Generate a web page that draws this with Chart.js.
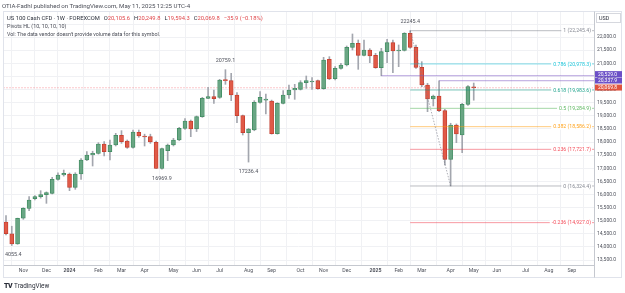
<!DOCTYPE html>
<html><head><meta charset="utf-8">
<script src="https://cdn.jsdelivr.net/npm/chart.js@4.4.1/dist/chart.umd.min.js"></script>
<style>
html,body{margin:0;padding:0;background:#fff;width:625px;height:293px;overflow:hidden;font-family:Roboto,"Liberation Sans",sans-serif;}
#wrap{position:relative;width:625px;height:293px;}
canvas{position:absolute;left:0;top:0;}
.t{position:absolute;white-space:nowrap;color:#4a4d57;font-size:5.5px;line-height:6px;}
.r{color:#e0464a;}
.k{color:#2a2e39;}
.g{display:inline-block;width:4px;}
.logo{position:absolute;left:4px;top:282px;font-size:6.4px;color:#2a2e39;white-space:nowrap;}
.logo b{font-weight:900;font-size:7px;letter-spacing:-0.5px;margin-right:2px;}
</style></head><body>
<div id="wrap">
<canvas id="c" width="625" height="293"></canvas>
<div class="t" style="left:2px;top:3px;font-size:6.1px;">OTIA-Fadhl published on TradingView.com, May 11, 2025 12:25 UTC-4</div>
<div class="t" style="left:7px;top:15px;font-size:5.8px;"><span class="k">US 100 Cash CFD · 1W · FOREXCOM</span><span class="g"></span><span class="k">O</span><span class="r">20,105.6</span><span class="g"></span><span class="k">H</span><span class="r">20,249.8</span><span class="g"></span><span class="k">L</span><span class="r">19,594.3</span><span class="g"></span><span class="k">C</span><span class="r">20,069.8</span><span class="g"></span><span class="r">−35.9 (−0.18%)</span></div>
<div class="t" style="left:7px;top:23px;font-size:5.4px;">Pivots HL (10, 10, 10, 10)</div>
<div class="t" style="left:7px;top:31px;font-size:5.3px;">Vol: The data vendor doesn't provide volume data for this symbol.</div>
<div class="logo"><b>TV</b>TradingView</div>
</div>
<script>
// ---- data (weekly candles starting week of 2023-10-16) ----
const startDate = '2023-10-16';
const opens  = [14950,14505,14112,15100,15472,15841,15917,15993,16044,16578,16743,16781,16273,16781,17315,17506,17569,17925,17633,17887,18256,18040,17798,18370,18230,18205,17989,16990,17671,17887,18078,18523,18802,18497,18967,19666,19730,19705,20366,20340,19794,19006,18357,18459,19514,19600,19565,18319,19476,19794,19984,20010,20264,20289,20340,20035,21153,20416,20810,20938,21611,21764,21306,21509,21306,20836,21446,21789,21471,21497,22145,21611,20849,20175,19641,19755,19196,17341,18650,18268,19438,20105.6];
const highs  = [15193,14790,15100,15497,15917,15960,16146,16100,16654,16830,16934,16820,16830,17365,17633,17650,17976,18014,18078,18332,18434,18078,18459,18459,18300,18300,18040,17773,17925,18142,18561,18891,18840,18993,19705,20086,19984,20391,20759.1,20620,19883,19030,18523,19578,19921,19832,19600,19500,19959,20175,20200,20340,20518,20460,20365,21230,21255,20874,21000,21662,22120,21891,21891,21560,21383,21573,21916,21891,21700,22170,22245.4,21700,21064,20240,19790,20337.9,19250,18716,18690,19476,20149,20249.8];
const lows   = [14460,14055.4,14100,15053,15383,15790,15860,15663,16020,16550,16700,16146,16197,16578,17290,17086,17540,17468,17315,17850,17950,17760,17770,18180,17849,17950,16985,16969.9,17290,17850,18050,18480,18205,18400,18940,19650,19476,19666,20200,19578,18739,18268,17236.4,18430,19480,19069,18300,18300,19450,19667,19628,19984,20048,20010,20010,20010,20380,20365,20780,20900,21510,20772,21280,21026,20810,20529.0,21026,20645,20874,21470,21573,20810,20111,19158,19374,19158,17125,16324.4,17976,17595,19400,19594.3];
const closes = [14505,14112,15095,15472,15790,15917,15993,16070,16578,16743,16807,16273,16781,17315,17506,17569,17925,17633,17887,18256,18014,17798,18383,18230,18192,18002,16990,17747,17887,18078,18523,18802,18497,18967,19666,19730,19654,20366,20340,19794,19006,18357,18497,19514,19705,19640,18319,19476,19794,19984,20048,20264,20340,20327,20035,21128,20403,20810,20938,21611,21764,21306,21509,21281,20836,21446,21789,21471,21497,22145,21611,20849,20175,19641,19755,19196,17341,18650,18307,19438,20111,20069.8];

const monthLabels = ['Nov','Dec','2024','Feb','Mar','Apr','May','Jun','Jul','Aug','Sep','Oct','Nov','Dec','2025','Feb','Mar','Apr','May','Jun','Jul','Aug','Sep'];
const yTicks = [13500,14000,14500,15000,15500,16000,16500,17000,17500,18000,18500,19000,19500,20000,20500,21000,21500,22000,22500];

// Fibonacci retracement (drawn from the 22245.4 high to the 16324.4 low)
const fibStartIndex = 70, fibEndIndex = 77;
const fibLevels = ['1','0.786','0.618','0.5','0.382','0.236','0','-0.236'];
const fibValues = [22245.4,20978.3,19983.6,19284.9,18586.2,17721.7,16324.4,14927.0];
const fibColors = ['#787b86','#00bcd4','#089981','#4caf50','#ff9800','#f23645','#787b86','#f23645'];

// Pivots HL labels
const pivotIndex = [70,38,27,42,1];
const pivotValue = [22245.4,20759.1,16969.9,17236.4,14055.4];
const pivotIsHigh = [true,true,false,false,false];

// Pivot level lines and right-axis price marks
const pivotLineIndex = [65,75];
const pivotLineValue = [20529.0,20337.9];
const lastPrice = 20069.8;
const axisMarkValues = [20529.0,20337.9,20069.8];
const axisMarkColors = ['#6b4fc7','#6b4fc7','#e0533f'];

// ---- build ----
const X_MIN = -0.52, X_MAX = 101.83, Y_MIN = 13312, Y_MAX = 22958;
const idx = opens.map((_, i) => i);
const isUp = i => closes[i] >= opens[i];
const G_FILL = '#69a684', G_LINE = '#3e8a5f', R_FILL = '#e05a47', R_LINE = '#c23b2c';

// month tick positions: first weekly bar of each month after the start
const monthTicks = [];
{
  const s = new Date(startDate + 'T00:00:00Z');
  let prevM = s.getUTCMonth(), li = 0;
  for (let i = 1; i <= Math.floor(X_MAX) && li < monthLabels.length; i++) {
    const d = new Date(s.getTime() + i * 7 * 86400000);
    const m = d.getUTCMonth();
    if (m !== prevM) { monthTicks.push({ i, label: monthLabels[li++] }); }
    prevM = m;
  }
}
const tickLabelAt = v => { const t = monthTicks.find(t => t.i === v); return t ? t.label : ''; };

const fmt = v => v.toLocaleString('en-US', { minimumFractionDigits: 1, maximumFractionDigits: 1 });
const hexA = (h, a) => { const n = parseInt(h.slice(1), 16); return `rgba(${n>>16},${(n>>8)&255},${n&255},${a})`; };

const datasets = [];
datasets.push({ type: 'bar', data: idx.map(i => ({ x: i, y: [lows[i], highs[i]] })),
  backgroundColor: '#a3a6ae', barThickness: 1, grouped: false, order: 5 });
datasets.push({ type: 'bar', data: idx.map(i => ({ x: i, y: [opens[i], closes[i]] })),
  backgroundColor: idx.map(i => isUp(i) ? G_FILL : R_FILL),
  borderColor: idx.map(i => isUp(i) ? G_LINE : R_LINE),
  borderWidth: 0.8, borderSkipped: false, barThickness: 4, minBarLength: 1, grouped: false, order: 4 });
// last price line
datasets.push({ type: 'line', data: [{ x: X_MIN, y: lastPrice }, { x: X_MAX, y: lastPrice }],
  borderColor: 'rgba(242,54,69,0.28)', borderWidth: 1, borderDash: [2, 1], pointRadius: 0, order: 6 });
// fib lines
fibValues.forEach((v, k) => datasets.push({ type: 'line',
  data: [{ x: fibStartIndex, y: v }, { x: X_MAX, y: v }],
  borderColor: hexA(fibColors[k], 0.5), borderWidth: 1, pointRadius: 0, order: 3 }));
// fib trend (dotted)
datasets.push({ type: 'line', data: [{ x: fibStartIndex, y: fibValues[0] }, { x: fibEndIndex, y: fibValues[6] }],
  borderColor: 'rgba(120,123,134,0.75)', borderWidth: 0.8, borderDash: [1.5, 1.5], pointRadius: 0, order: 1 });
// pivot level lines
pivotLineValue.forEach((v, k) => datasets.push({ type: 'line',
  data: [{ x: pivotLineIndex[k], y: v }, { x: X_MAX, y: v }],
  borderColor: 'rgba(126,87,194,0.55)', borderWidth: 1, pointRadius: 0, order: 3 }));

const annot = {
  id: 'annot',
  afterDatasetsDraw(chart) {
    const { ctx, scales: { x, y }, chartArea: a } = chart;
    ctx.save();
    ctx.beginPath(); ctx.rect(a.left, a.top, a.right - a.left, a.bottom - a.top); ctx.clip();
    // pivot labels
    ctx.font = '5.4px Roboto'; ctx.textAlign = 'center'; ctx.textBaseline = 'middle'; ctx.fillStyle = '#4e515b';
    pivotIndex.forEach((k, j) => {
      const px = x.getPixelForValue(k), py = y.getPixelForValue(pivotValue[j]) + (pivotIsHigh[j] ? -9.5 : 9.5);
      ctx.fillText(String(pivotValue[j]), px, py);
    });
    // fib labels at the right end with white background
    ctx.font = '5.2px Roboto'; ctx.textAlign = 'right';
    fibValues.forEach((v, k) => {
      const txt = fibLevels[k] + ' (' + fmt(v) + ')';
      const w = ctx.measureText(txt).width;
      const rx = a.right - 3, py = y.getPixelForValue(v);
      ctx.fillStyle = '#fff'; ctx.fillRect(rx - w - 2, py - 3, w + 3, 6);
      ctx.fillStyle = hexA(fibColors[k], 0.9); ctx.fillText(txt, rx, py + 0.3);
    });
    ctx.restore();
  },
  afterDraw(chart) {
    const { ctx, scales: { y }, chartArea: a } = chart;
    ctx.save();
    // frame
    ctx.strokeStyle = '#e0e3eb'; ctx.lineWidth = 1;
    ctx.strokeRect(3.5, 11.5, 618, 266);
    ctx.strokeStyle = '#c5c8cf';
    ctx.beginPath(); ctx.moveTo(a.right + 0.5, 11.5); ctx.lineTo(a.right + 0.5, 277.5); ctx.stroke();
    // right-axis price marks
    const H = 6.4;
    let centers = axisMarkValues.map(v => y.getPixelForValue(v));
    for (let k = centers.length - 2; k >= 0; k--) if (centers[k + 1] - centers[k] < H) centers[k] = centers[k + 1] - H;
    ctx.font = '5px Roboto'; ctx.textAlign = 'left'; ctx.textBaseline = 'middle';
    axisMarkValues.forEach((v, k) => {
      ctx.fillStyle = axisMarkColors[k]; ctx.fillRect(a.right + 1, centers[k] - H / 2, 27, H - 0.4);
      ctx.fillStyle = '#fff'; ctx.fillText(fmt(v), a.right + 4, centers[k] + 0.2);
    });
    // USD box
    ctx.fillStyle = '#fff'; ctx.fillRect(a.right + 2, 13, 25, 10);
    ctx.strokeStyle = '#d6d8de'; ctx.strokeRect(a.right + 2.5, 13.5, 24, 9);
    ctx.fillStyle = '#2a2e39'; ctx.font = '5.4px Roboto'; ctx.fillText('USD', a.right + 5, 18.5);
    ctx.restore();
  }
};

Chart.defaults.font.family = 'Roboto';
new Chart(document.getElementById('c'), {
  type: 'bar',
  data: { datasets },
  options: {
    responsive: false, animation: false, events: [],
    layout: { padding: { left: 3, top: 12, right: 3, bottom: 16 } },
    plugins: { legend: { display: false }, tooltip: { enabled: false } },
    scales: {
      x: {
        type: 'linear', min: X_MIN, max: X_MAX, offset: false,
        grid: { color: '#f0f1f4', drawTicks: false },
        border: { color: '#c5c8cf' },
        afterBuildTicks: s => { s.ticks = monthTicks.map(t => ({ value: t.i })); },
        afterFit: s => { s.height = 12; },
        ticks: { autoSkip: false, maxRotation: 0, padding: 3, color: '#4e515b',
          font: c => ({ size: 5.2, weight: /^\d{4}$/.test(c.tick && c.tick.label) ? 'bold' : 'normal' }),
          callback: v => tickLabelAt(v) }
      },
      y: {
        type: 'linear', position: 'right', min: Y_MIN, max: Y_MAX,
        grid: { color: '#f0f1f4', drawTicks: false },
        border: { color: '#c5c8cf' },
        afterBuildTicks: s => { s.ticks = yTicks.map(v => ({ value: v })); },
        afterFit: s => { s.width = 28; },
        ticks: { padding: 3, color: '#4e515b', font: { size: 5 }, callback: v => v > 22200 ? '' : fmt(v) }
      }
    }
  },
  plugins: [annot]
});
</script>
</body></html>
